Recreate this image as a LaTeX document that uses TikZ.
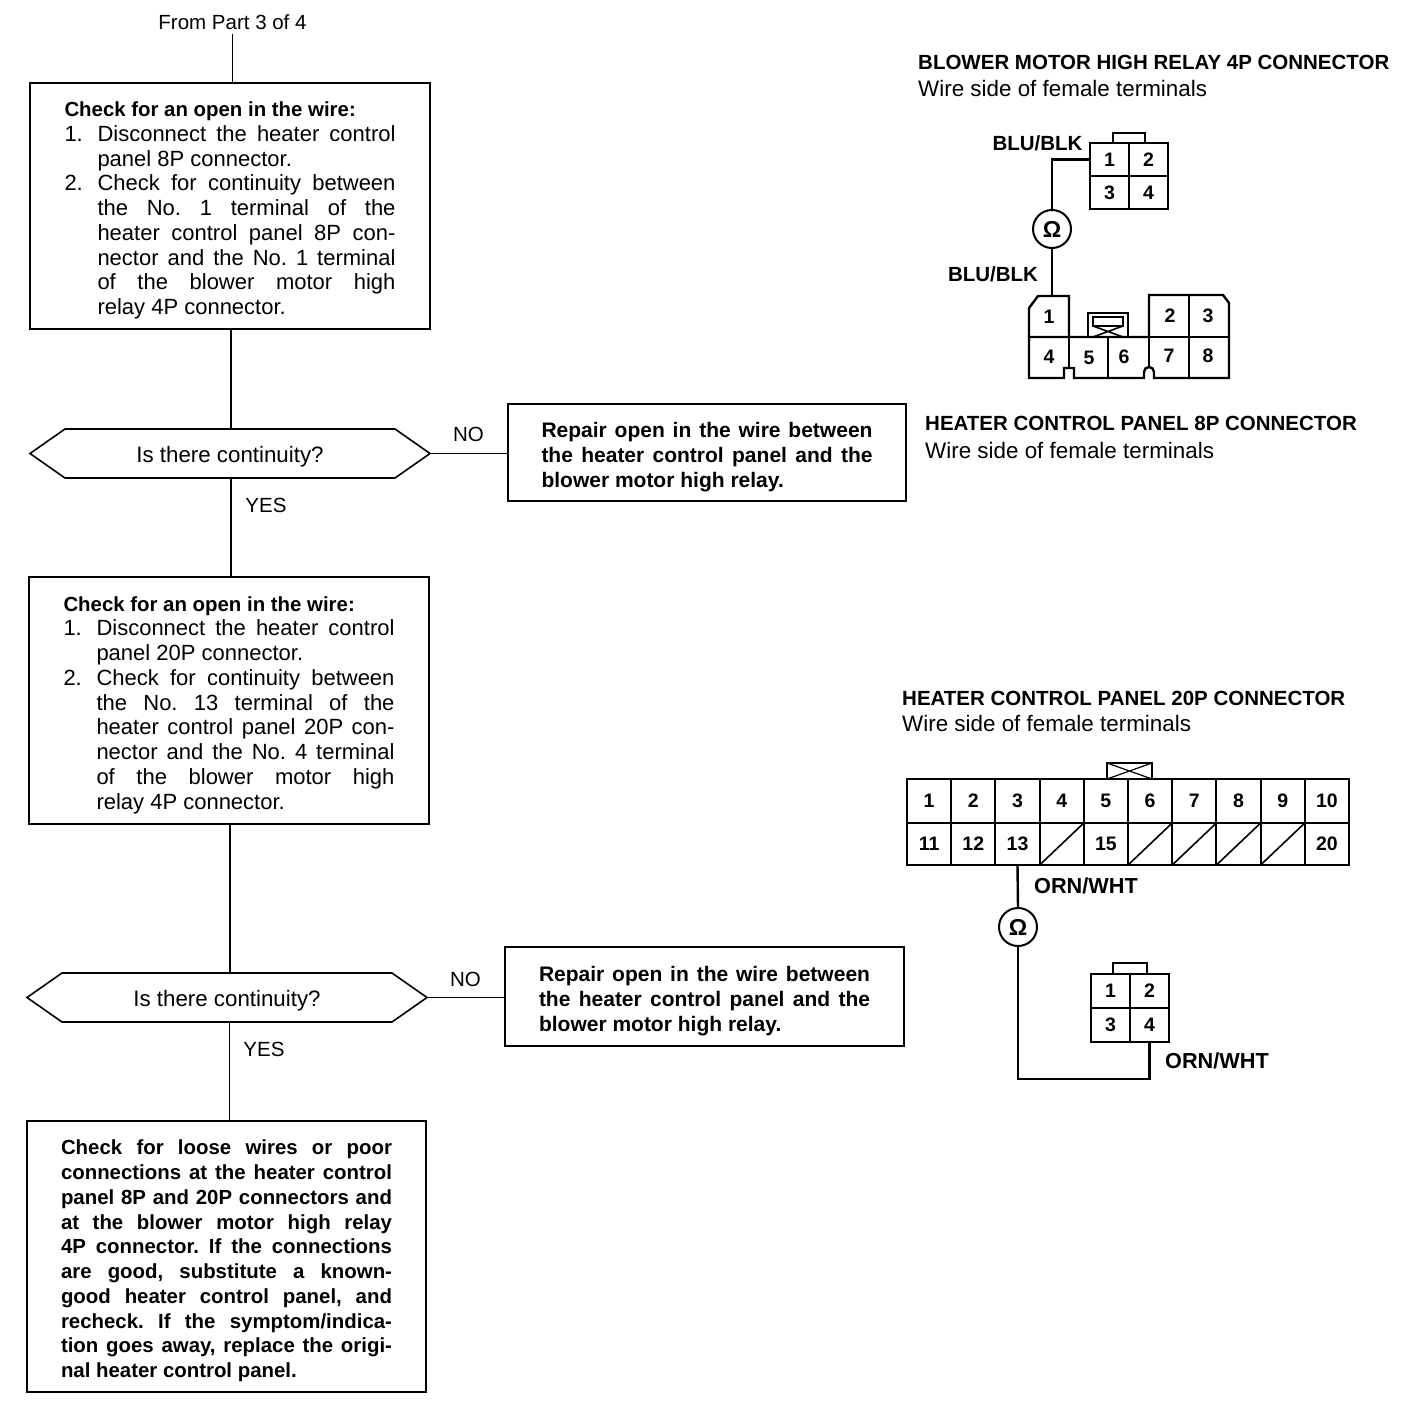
\documentclass[tikz,border=0pt]{standalone}
\usepackage{fontspec}
\setmainfont{Liberation Sans}
\usetikzlibrary{shapes.symbols}

\newcommand{\stepitem}[2]{\par\hangindent=33pt\hangafter=1\leavevmode\hbox to 33pt{#1\hfil}#2}
\newcommand{\checkhead}[1]{{\fontsize{20.4}{24.75}\selectfont\bfseries #1}}
\newcommand{\blockstop}{\par\nointerlineskip\vskip-9pt\hrule height 0pt}
\tikzset{
  flowbox/.style={draw, line width=1.6pt, inner sep=0pt, outer sep=0pt, minimum height=#1,
    font=\fontsize{22}{24.75}\selectfont},
  textblock/.style={text width=331pt, align=justify,
    execute at begin node={\parindent=0pt\tolerance=9999\hbadness=10000\hyphenpenalty=10000\frenchspacing}},
  choice/.style={draw, line width=1.6pt, shape=signal, signal to=west and east, signal pointer angle=70,
    minimum width=400pt, minimum height=49pt, text height=20pt, text depth=3pt, inner sep=0pt, outer sep=0pt,
    font=\fontsize{22.3}{24}\selectfont},
  flow/.style={line width=1.4pt},
  answer/.style={font=\fontsize{20.5}{24}\selectfont},
  title/.style={anchor=west, inner sep=0pt, font=\fontsize{20.5}{24}\selectfont\bfseries},
  subtitle/.style={anchor=west, inner sep=0pt, font=\fontsize{22.4}{24}\selectfont},
  colour/.style={inner sep=0pt, font=\fontsize{20.5}{24}\selectfont\bfseries},
  cell/.style={draw, line width=2pt, inner sep=0pt, outer sep=0pt, font=\fontsize{19.5}{20}\selectfont\bfseries},
  pin/.style={inner sep=0pt, outer sep=0pt, minimum width=40pt, minimum height=41pt, font=\fontsize{19.5}{20}\selectfont\bfseries},
  shell/.style={line width=2.4pt, line join=miter},
  wire/.style={line width=2.4pt},
  meter/.style={draw, circle, line width=2pt, minimum size=38pt, inner sep=0pt, outer sep=0pt, font=\fontsize{23}{24}\selectfont\bfseries},
}

\begin{document}
\begin{tikzpicture}[x=1pt, y=-1pt]
  \useasboundingbox (0,0) rectangle (1408,1416);

  % first check
  \node[inner sep=0pt, answer] (from) at (232.5,22) {From Part 3 of 4};
  \node[flowbox=246pt, minimum width=400pt, textblock] (wireA) at (230,206) {\checkhead{Check for an open in the wire:}
    \stepitem{1.}{Disconnect the heater control\linebreak panel 8P connector.}
    \stepitem{2.}{Check for continuity between\linebreak the No. 1 terminal of the\linebreak heater control panel 8P con-\linebreak nector and the No. 1 terminal\linebreak of the blower motor high\linebreak relay 4P connector.}\blockstop};
  \node[choice] (askA) at (230,453.5) {Is there continuity?};
  \node[flowbox=97pt, minimum width=398pt, textblock, font=\fontsize{21}{24.75}\selectfont\bfseries] (fixA) at (707,452.5)
    {Repair open in the wire between\linebreak the heater control panel and the\linebreak blower motor high relay.\blockstop};
  \draw[flow, shorten <=4pt] (from.south) -- (from.south |- wireA.north);
  \draw[flow] ([xshift=1pt]wireA.south) -- ([xshift=1pt]wireA.south |- askA.north);
  \draw[flow] (askA.east) -- (askA.east -| fixA.west);
  \node[answer] (noA) at (468.5,434) {NO};
  \node[answer] (yesA) at (266,505) {YES};

  % second check
  \node[flowbox=247pt, minimum width=400pt, textblock] (wireB) at (229,700.5) {\checkhead{Check for an open in the wire:}
    \stepitem{1.}{Disconnect the heater control\linebreak panel 20P connector.}
    \stepitem{2.}{Check for continuity between\linebreak the No. 13 terminal of the\linebreak heater control panel 20P con-\linebreak nector and the No. 4 terminal\linebreak of the blower motor high\linebreak relay 4P connector.}\blockstop};
  \node[choice] (askB) at (227,997.5) {Is there continuity?};
  \node[flowbox=99pt, minimum width=399pt, textblock, font=\fontsize{21}{24.75}\selectfont\bfseries] (fixB) at (704.5,996.5)
    {Repair open in the wire between\linebreak the heater control panel and the\linebreak blower motor high relay.\blockstop};
  \draw[flow] ([xshift=1pt]askA.south) -- ([xshift=1pt]askA.south |- wireB.north);
  \draw[flow] ([xshift=1pt]wireB.south) -- ([xshift=1pt]wireB.south |- askB.north);
  \draw[flow] (askB.east) -- (askB.east -| fixB.west);
  \node[answer] (noB) at (465.5,979) {NO};
  \node[answer] (yesB) at (264,1049) {YES};

  % last box
  \node[flowbox=271pt, minimum width=399pt, textblock, font=\fontsize{20.4}{24.75}\selectfont\bfseries] (lastbox) at (226.5,1256.5)
    {Check for loose wires or poor\linebreak connections at the heater control\linebreak panel 8P and 20P connectors and\linebreak at the blower motor high relay\linebreak 4P connector. If the connections\linebreak are good, substitute a known-\linebreak good heater control panel, and\linebreak recheck. If the symptom/indica-\linebreak tion goes away, replace the origi-\linebreak nal heater control panel.\blockstop};
  \draw[flow] ([xshift=2.5pt]askB.south) -- ([xshift=2.5pt]askB.south |- lastbox.north);

  % relay connector
  \node[title] (titleA) at (918,62) {BLOWER MOTOR HIGH RELAY 4P CONNECTOR};
  \node[subtitle] (subA) at (918,88) {Wire side of female terminals};
  \draw[line width=1.2pt] (1113,143) -- (1113,133) -- (1145,133) -- (1145,143);
  \foreach \n/\cx/\cy in {1/1109.5/159.5, 2/1148.5/159.5, 3/1109.5/192.5, 4/1148.5/192.5}
    \node[cell, minimum width=39pt, minimum height=33pt] (relayA\n) at (\cx,\cy) {\n};
  \node[meter] (ohmA) at (1052,229) {Ω};
  \draw[wire] (relayA1.west) -| (ohmA.north);
  \node[colour] (bluA) at (1037.5,143) {BLU/BLK};
  \node[colour] (bluB) at (993,274) {BLU/BLK};

  % 8P connector
  \draw[shell] (1029,337) -- (1029,308) -- (1038,296) -- (1069,296) -- (1069,337);
  \draw[shell] (1149,337) -- (1149,295) -- (1223,295) -- (1229,303) -- (1229,378)
    -- (1154,378) -- (1154,372) arc[start angle=0, end angle=-180, radius=5] -- (1144,378)
    -- (1074,378) -- (1074,368) -- (1064,368) -- (1064,378) -- (1029,378) -- (1029,337) -- cycle;
  \draw[line width=2pt] (1189,295) -- (1189,378) (1029,337) -- (1229,337) (1069,337) -- (1069,368) (1108,337) -- (1108,378) (1149,337) -- (1149,368);
  \draw[line width=2pt] (1088,337) -- (1088,313) -- (1128,313) -- (1128,337);
  \draw[line width=2pt] (1093,317) rectangle (1123,326);
  \draw[line width=1.6pt] (1093,326) -- (1123,337) (1123,326) -- (1093,337);
  \foreach \n/\cx/\cy in {1/1049/317, 2/1170/316, 3/1208/316, 4/1049/357, 5/1089/358, 6/1124/357, 7/1169/356, 8/1208/356}
    \node[pin] (panelA\n) at (\cx,\cy) {\n};
  \draw[wire] (ohmA.south) -- (ohmA.south |- panelA1.north);
  \node[title] (titleB) at (925,423) {HEATER CONTROL PANEL 8P CONNECTOR};
  \node[subtitle] (subB) at (925,450) {Wire side of female terminals};

  % 20P connector
  \node[title] (titleC) at (902,698) {HEATER CONTROL PANEL 20P CONNECTOR};
  \node[subtitle] (subC) at (902,723) {Wire side of female terminals};
  \draw[line width=1.6pt] (1107,779) -- (1107,763) -- (1152,763) -- (1152,779);
  \draw[line width=1.2pt] (1107,763) -- (1152,779) (1152,763) -- (1107,779);
  \foreach \n [count=\i from 0] in {1,...,10}
    \node[cell, minimum width=44.2pt, minimum height=44pt] (panelB\n) at ({929.1+44.2*\i},801) {\n};
  \foreach \n/\t [count=\i from 0] in {11/11,12/12,13/13,14/,15/15,16/,17/,18/,19/,20/20}
    \node[cell, minimum width=44.2pt, minimum height=42pt] (panelB\n) at ({929.1+44.2*\i},844) {\t};
  \foreach \n in {14,16,17,18,19}
    \draw[line width=1.6pt] (panelB\n.south west) -- (panelB\n.north east);
  \node[meter] (ohmB) at (1018,927) {Ω};
  \draw[wire] (panelB13.south) -- (ohmB.north);
  \node[colour, font=\fontsize{21.7}{24}\selectfont\bfseries] (orngA) at (1086,886) {ORN/WHT};

  % second relay connector
  \draw[line width=1.6pt] (1113,974) -- (1113,963) -- (1147,963) -- (1147,974);
  \foreach \n/\cx/\cy in {1/1110.5/990.5, 2/1149.5/990.5, 3/1110.5/1024.5, 4/1149.5/1024.5}
    \node[cell, minimum width=39pt, minimum height=34pt] (relayB\n) at (\cx,\cy) {\n};
  \draw[wire] (ohmB.south) |- (relayB4.south |- 0,1079) -- (relayB4.south);
  \node[colour, font=\fontsize{21.7}{24}\selectfont\bfseries] (orngB) at (1217,1061) {ORN/WHT};
\end{tikzpicture}
\end{document}
